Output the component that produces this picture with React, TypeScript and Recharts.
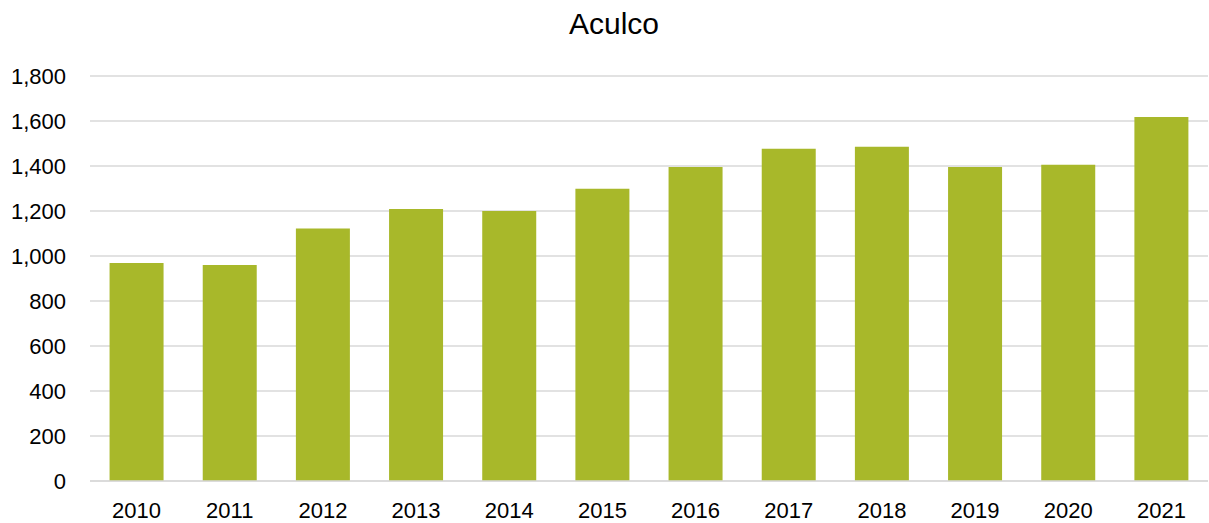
import React from "react";
import { BarChart, Bar, XAxis, YAxis, CartesianGrid } from "recharts";

// años y valores
const years = ["2010", "2011", "2012", "2013", "2014", "2015", "2016", "2017", "2018", "2019", "2020", "2021"];
const values = [969, 960, 1122, 1209, 1200, 1299, 1396, 1477, 1486, 1396, 1406, 1618];
const yTicks = [0, 200, 400, 600, 800, 1000, 1200, 1400, 1600, 1800];

const data = years.map((year, i) => ({ year, value: values[i] }));

const fmt = (v: number) => v.toLocaleString("en-US");

const App = () => {
  return (
    <div
      style={{
        position: "absolute",
        top: 0,
        left: 0,
        width: 1209,
        height: 523,
        background: "#fff",
        fontFamily: "'Liberation Sans', Arial, sans-serif",
      }}
    >
      <div
        style={{
          position: "absolute",
          top: 9,
          left: 0,
          width: 1228,
          textAlign: "center",
          fontSize: 30,
          lineHeight: "30px",
          color: "#000",
        }}
      >
        Aculco
      </div>
      <BarChart
        width={1209}
        height={523}
        data={data}
        margin={{ top: 76, right: 1, bottom: 12, left: 0 }}
        barCategoryGap="21%"
      >
        <CartesianGrid vertical={false} stroke="#d9d9d9" strokeWidth={1.5} />
        <XAxis
          dataKey="year"
          tickLine={false}
          axisLine={{ stroke: "#d9d9d9", strokeWidth: 1.5 }}
          tick={{ fill: "#000", fontSize: 22 }}
          tickMargin={15}
          height={30}
        />
        <YAxis
          width={90}
          domain={[0, 1800]}
          ticks={yTicks}
          tickFormatter={fmt}
          tickLine={false}
          axisLine={false}
          tick={{ fill: "#000", fontSize: 22 }}
          tickMargin={18}
          interval={0}
        />
        <Bar dataKey="value" fill="#a8b82a" isAnimationActive={false} />
      </BarChart>
    </div>
  );
};

export default App;
